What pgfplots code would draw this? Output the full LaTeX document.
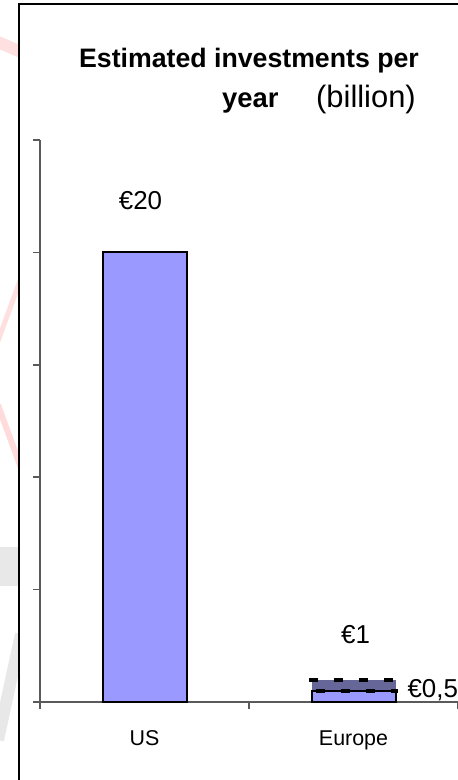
\documentclass[border=0pt]{standalone}
\usepackage{pgfplots}
\pgfplotsset{compat=1.18}
\usepackage{fontspec}
\setmainfont{Liberation Sans}
\definecolor{barlight}{HTML}{9999FF}
\definecolor{bardark}{HTML}{666699}
\definecolor{axiscol}{HTML}{5A5A5A}
\begin{document}
\begin{tikzpicture}[x=1bp,y=1bp]
\useasboundingbox (0,0) rectangle (458,780);
\fill[white] (0,0) rectangle (458,780);
% faint background watermark left of the panel
\begin{scope}
\clip (0,0) rectangle (19,780);
\draw[red!12, line width=12bp] (-2,738) -- (21,728);
\draw[red!12, line width=5bp] (21,502) -- (-2,439);
\draw[red!14, line width=6bp] (-2,375) -- (21,312);
\fill[gray!18] (0,194) rectangle (19,233);
\draw[gray!18, line width=12bp] (-2,40) -- (21,146);
\end{scope}
\draw[black, line width=1.6bp] (19,0) -- (19,776) -- (458,776);
\begin{axis}[
  at={(40bp,78bp)}, anchor=south west,
  scale only axis, width=418bp, height=562bp,
  xmin=-0.5, xmax=1.5, ymin=0, ymax=25,
  axis x line*=bottom, axis y line*=left,
  axis line style={draw=axiscol, line width=1.5bp},
  xtick={-0.5,0.5,1.5}, xticklabels={},
  ytick={0,5,...,25}, yticklabels={},
  tick align=outside, major tick length=7bp,
  tick style={draw=axiscol, line width=1.5bp},
  clip=false,
]
\addplot[ybar, bar width=84bp, bar shift=0pt, fill=barlight, draw=black, line width=2bp] coordinates {(0,20)};
\addplot[ybar, bar width=84bp, bar shift=0pt, fill=bardark, draw=none] coordinates {(1,1)};
\addplot[ybar, bar width=84bp, bar shift=0pt, fill=barlight, draw=black, line width=2bp] coordinates {(1,0.5)};
\addplot[black, line width=4bp, dash pattern=on 9bp off 16bp] coordinates {(0.787,1) (1.2,1)};
\addplot[black, line width=4bp, dash pattern=on 9bp off 16bp, dash phase=18bp] coordinates {(0.787,0.5) (1.213,0.5)};
\node[anchor=base, inner sep=0pt, yshift=43bp, xshift=-4bp, font=\fontsize{26}{26}\selectfont] at (axis cs:0,20) {€20};
\node[anchor=base, inner sep=0pt, yshift=36bp, xshift=2bp, font=\fontsize{26}{26}\selectfont] at (axis cs:1,1) {€1};
\node[anchor=base west, inner sep=0pt, xshift=12bp, yshift=-7bp, font=\fontsize{26}{26}\selectfont] at (axis cs:1.2,0.5) {€0,5};
\node[anchor=base, inner sep=0pt, yshift=-43bp, font=\fontsize{21.5}{21.5}\selectfont] at (axis cs:0,0) {US};
\node[anchor=base, inner sep=0pt, yshift=-43bp, font=\fontsize{21.5}{21.5}\selectfont] at (axis cs:1,0) {Europe};
\end{axis}
\node[anchor=base, inner sep=0pt, font=\bfseries\fontsize{26.8}{26.8}\selectfont] at (249,712) {Estimated investments per};
\node[anchor=base west, inner sep=0pt, font=\bfseries\fontsize{27.5}{27.5}\selectfont] at (222,672) {year};
\node[anchor=base west, inner sep=0pt, font=\fontsize{31}{31}\selectfont] at (316,672) {(billion)};
\end{tikzpicture}
\end{document}
